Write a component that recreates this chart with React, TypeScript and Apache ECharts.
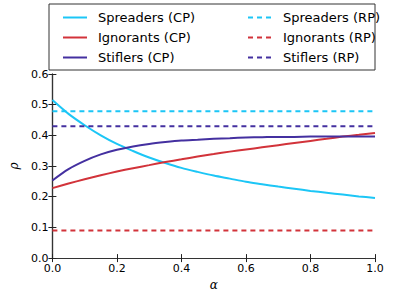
import React, { useEffect, useRef } from "react";
import * as echarts from "echarts";

const alpha = [0, 0.05, 0.1, 0.15, 0.2, 0.25, 0.3, 0.35, 0.4, 0.45, 0.5, 0.55, 0.6, 0.65, 0.7, 0.75, 0.8, 0.85, 0.9, 0.95, 1.0];
const spreadersCP = [0.515, 0.47, 0.433, 0.4, 0.372, 0.349, 0.328, 0.31, 0.294, 0.281, 0.269, 0.259, 0.249, 0.241, 0.233, 0.226, 0.219, 0.213, 0.207, 0.201, 0.196];
const ignorantsCP = [0.228, 0.243, 0.257, 0.27, 0.282, 0.293, 0.303, 0.313, 0.322, 0.331, 0.339, 0.347, 0.354, 0.361, 0.368, 0.375, 0.382, 0.389, 0.396, 0.402, 0.408];
const stiflersCP = [0.253, 0.29, 0.317, 0.338, 0.353, 0.364, 0.372, 0.378, 0.383, 0.386, 0.389, 0.391, 0.393, 0.394, 0.395, 0.395, 0.396, 0.396, 0.396, 0.396, 0.396];
const spreadersRP = 0.479;
const ignorantsRP = 0.09;
const stiflersRP = 0.43;
const xTicks = [0, 0.2, 0.4, 0.6, 0.8, 1.0];
const yTicks = [0, 0.1, 0.2, 0.3, 0.4, 0.5, 0.6];

const CYAN = "#1cc6f6";
const RED = "#d2333a";
const PURPLE = "#4430a0";
const FONT = "DejaVu Sans";

export default function App() {
  const ref = useRef<HTMLDivElement>(null);
  useEffect(() => {
    if (!ref.current) return;
    const chart = echarts.init(ref.current, undefined, { renderer: "svg" });
    const pairs = (ys: number[]) => alpha.map((a, i) => [a, ys[i]]);
    const flat = (v: number) => alpha.map((a) => [a, v]);
    const lineSeries = (name: string, data: number[][], color: string, dashed: boolean) => ({
      name,
      type: "line",
      data,
      smooth: dashed ? false : 0.3,
      showSymbol: false,
      symbol: "none",
      xAxisIndex: 0,
      yAxisIndex: 0,
      itemStyle: { color },
      lineStyle: { color, width: 2, type: dashed ? [5, 4] : "solid" },
    });
    const tickStyle = { lineStyle: { color: "#222", width: 1 } };
    const axisLine = { show: true, lineStyle: { color: "#333", width: 1.2 } };
    const legendBase = {
      orient: "vertical",
      top: 6,
      itemWidth: 24,
      itemHeight: 10,
      itemGap: 7,
      itemStyle: { opacity: 0 },
      textStyle: { fontFamily: FONT, fontSize: 13, color: "#000", padding: [0, 0, 0, 6] },
    };
    chart.setOption({
      animation: false,
      grid: { left: 49, right: 20, top: 74, bottom: 30, show: false },
      legend: [
        { ...legendBase, data: ["Spreaders (CP)", "Ignorants (CP)", "Stiflers (CP)"], left: 57 },
        { ...legendBase, data: ["Spreaders (RP)", "Ignorants (RP)", "Stiflers (RP)"], left: 242 },
      ],
      graphic: [
        {
          type: "rect",
          shape: { x: 49, y: 4, width: 326, height: 66 },
          style: { fill: "none", stroke: "#333", lineWidth: 1 },
          z: 0,
        },
      ],
      xAxis: [
        {
          type: "value",
          min: 0,
          max: 1,
          interval: 0.2,
          axisLine,
          axisTick: { show: true, inside: true, length: 4, ...tickStyle },
          splitLine: { show: false },
          axisLabel: {
            fontFamily: FONT,
            fontSize: 11,
            color: "#000",
            margin: 5,
            formatter: (v: number) => (xTicks.includes(Math.round(v * 10) / 10) ? v.toFixed(1) : ""),
          },
          name: "α",
          nameLocation: "middle",
          nameGap: 20,
          nameTextStyle: { fontFamily: "DejaVu Serif", fontStyle: "italic", fontSize: 12, color: "#000" },
        },
        {
          type: "value",
          position: "top",
          min: 0,
          max: 1,
          interval: 0.2,
          axisLine,
          axisTick: { show: true, inside: true, length: 4, ...tickStyle },
          axisLabel: { show: false },
          splitLine: { show: false },
        },
      ],
      yAxis: [
        {
          type: "value",
          min: 0,
          max: 0.6,
          interval: 0.1,
          axisLine,
          axisTick: { show: true, inside: true, length: 4, ...tickStyle },
          splitLine: { show: false },
          axisLabel: {
            fontFamily: FONT,
            fontSize: 11,
            color: "#000",
            margin: 4,
            formatter: (v: number) => (yTicks.includes(Math.round(v * 10) / 10) ? v.toFixed(1) : ""),
          },
          name: "ρ",
          nameLocation: "middle",
          nameGap: 24,
          nameRotate: 90,
          nameTextStyle: { fontFamily: "DejaVu Serif", fontStyle: "italic", fontSize: 12, color: "#000" },
        },
        {
          type: "value",
          position: "right",
          min: 0,
          max: 0.6,
          interval: 0.1,
          axisLine,
          axisTick: { show: true, inside: true, length: 4, ...tickStyle },
          axisLabel: { show: false },
          splitLine: { show: false },
        },
      ],
      series: [
        lineSeries("Spreaders (CP)", pairs(spreadersCP), CYAN, false),
        lineSeries("Ignorants (CP)", pairs(ignorantsCP), RED, false),
        lineSeries("Stiflers (CP)", pairs(stiflersCP), PURPLE, false),
        lineSeries("Spreaders (RP)", flat(spreadersRP), CYAN, true),
        lineSeries("Ignorants (RP)", flat(ignorantsRP), RED, true),
        lineSeries("Stiflers (RP)", flat(stiflersRP), PURPLE, true),
      ],
    });
    return () => chart.dispose();
  }, []);
  return <div ref={ref} style={{ width: 395, height: 296, position: "absolute", left: 0, top: 0 }} />;
}
